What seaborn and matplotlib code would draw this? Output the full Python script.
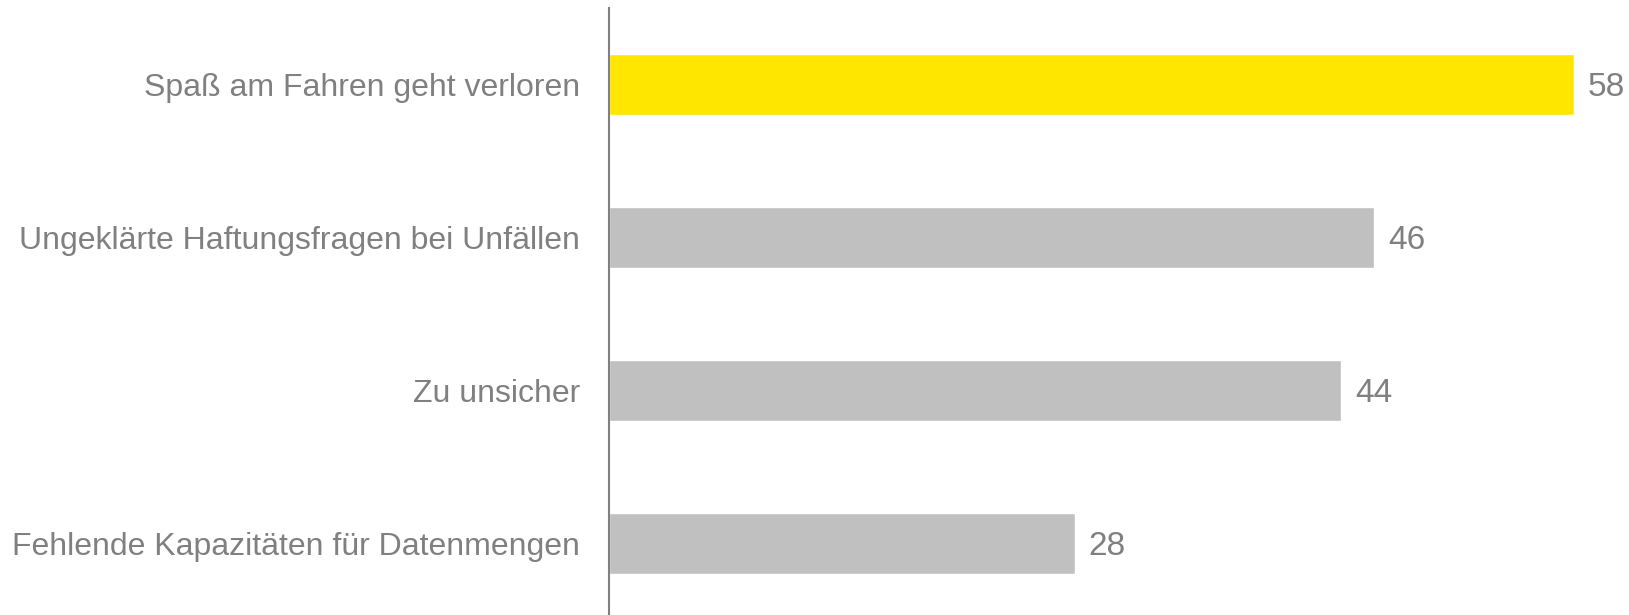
import matplotlib
matplotlib.use("Agg")
import matplotlib.pyplot as plt
import seaborn as sns
import pandas as pd

# data
categories = ["Spaß am Fahren geht verloren",
              "Ungeklärte Haftungsfragen bei Unfällen",
              "Zu unsicher",
              "Fehlende Kapazitäten für Datenmengen"]
values = [58, 46, 44, 28]
bar_colors = ["#FFE600", "#C0C0C0", "#C0C0C0", "#C0C0C0"]

text_gray = "#808080"

sns.set_style("white")
plt.rcParams["font.family"] = ["Liberation Sans", "DejaVu Sans"]

df = pd.DataFrame({"label": categories, "value": values})

fig = plt.figure(figsize=(16.29, 6.15), dpi=100)
ax = fig.add_axes([609 / 1629, 0.0, (1624 - 609) / 1629, 1 - 8 / 615])

sns.barplot(data=df, x="value", y="label", hue="label",
            palette=dict(zip(categories, bar_colors)), legend=False,
            width=0.4, saturation=1, ax=ax)

for cont in ax.containers:
    labels = ax.bar_label(cont, padding=10, fontsize=24, color=text_gray)
    for t in labels:
        t.set_va("center_baseline")

ax.set_xlim(0, 61)
ax.set_ylim(3.47, -0.5)
ax.set_xlabel("")
ax.set_ylabel("")
ax.set_xticks([])
ax.tick_params(axis="y", length=0, pad=21, labelsize=23, labelcolor=text_gray)
for t in ax.get_yticklabels():
    t.set_va("center_baseline")

for side in ["top", "right", "bottom"]:
    ax.spines[side].set_visible(False)
ax.spines["left"].set_color(text_gray)
ax.spines["left"].set_linewidth(1.5)

fig.savefig("out.png", dpi=100, facecolor="white")
